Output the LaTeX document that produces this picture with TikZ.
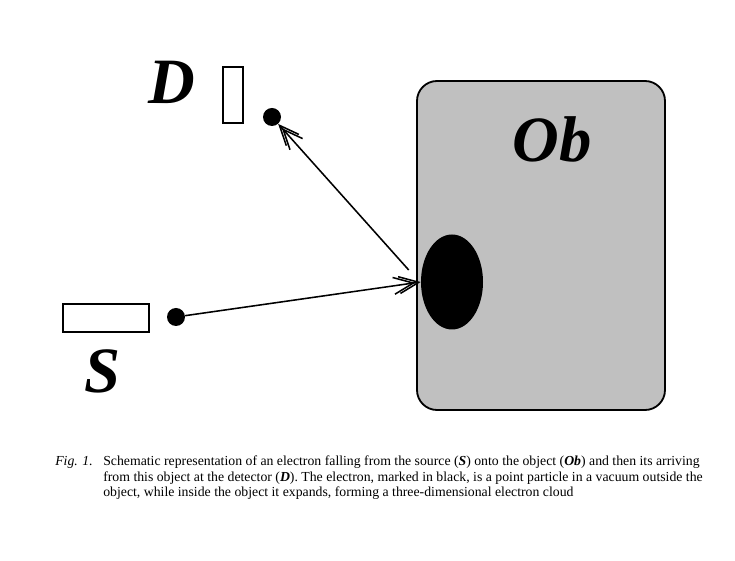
\documentclass[tikz,border=0pt]{standalone}
\usepackage{fontspec}
\setmainfont{Liberation Serif}
\usepackage{xcolor}
\usepackage{tikz}
\usetikzlibrary{shapes,arrows,positioning,calc,arrows.meta}
\definecolor{obgray}{RGB}{192,192,192}
\tikzset{
  letter/.style={inner sep=0pt, font=\fontsize{46}{46}\selectfont\bfseries\itshape},
  dot/.style={circle, fill=black, inner sep=0pt, minimum size=0.45cm},
  elarrow/.style={line width=1.1pt, -{Straight Barb[length=14pt,width=12pt,sep=-12pt]Straight Barb[length=14pt,width=12pt]}}
}

\begin{document}
\begin{tikzpicture}
        \useasboundingbox (0,0) rectangle (18.375,14.025);
        % Object
        \draw[line width=1.3pt, fill=obgray, rounded corners=0.5cm] (10.425,3.775) rectangle (16.625,12.0);
        \node[letter] (ob) at (13.8,10.55) {Ob};
        % Electron cloud inside the object
        \node[ellipse, fill=black, inner sep=0pt, minimum width=1.55cm, minimum height=2.375cm] (cloud) at (11.3,6.975) {};

        % Source
        \draw[line width=1.1pt] (1.575,5.725) rectangle (3.725,6.425);
        \node[letter] (s) at (2.55,4.75) {S};
        \node[dot] (sdot) at (4.4,6.1) {};

        % Detector
        \draw[line width=1.1pt] (5.575,10.95) rectangle (6.075,12.35);
        \node[letter] (d) at (4.3,11.975) {D};
        \node[dot] (ddot) at (6.8,11.1) {};

        % Electron paths
        \coordinate (hit) at ($(cloud.west)+(-0.3,0.3)$);
        \draw[elarrow] (sdot) -- (cloud.west);
        \draw[elarrow] (hit) -- (ddot);

        % Caption
        \node[anchor=north west, inner sep=0pt, font=\fontsize{9.8}{11}\selectfont\itshape] (fig) at (1.375,2.63) {Fig. 1.};
        \node[anchor=north west, inner sep=0pt, align=left, font=\fontsize{9.8}{11}\selectfont] (caption) at (2.575,2.63)
          {Schematic representation of an electron falling from the source (\textbf{\textit{S}}) onto the object (\textbf{\textit{Ob}}) and then its arriving\\
           from this object at the detector (\textbf{\textit{D}}). The electron, marked in black, is a point particle in a vacuum outside the\\
           object, while inside the object it expands, forming a three-dimensional electron cloud};
    \end{tikzpicture}
\end{document}
